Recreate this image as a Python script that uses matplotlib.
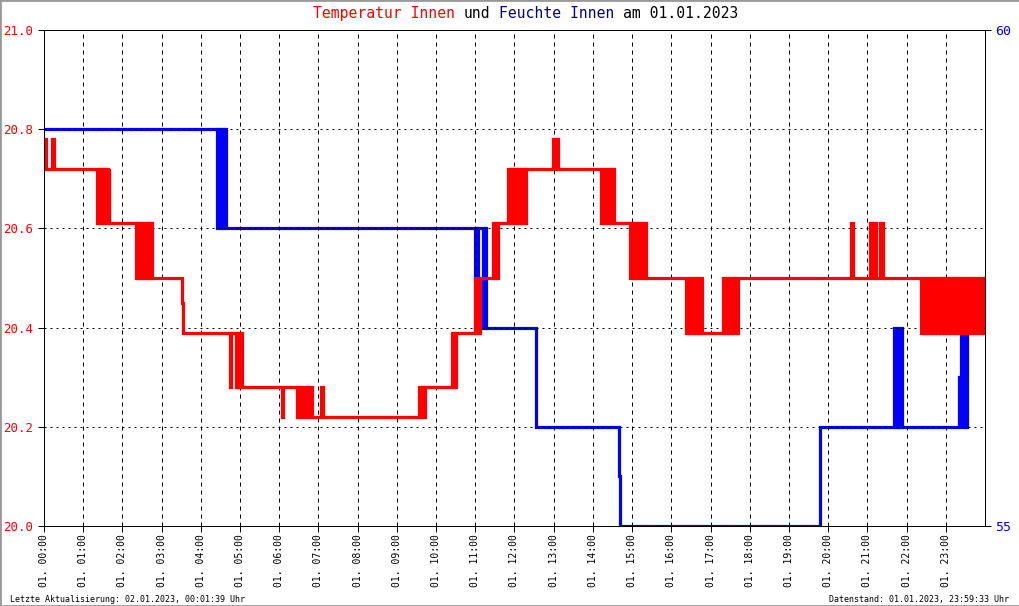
import matplotlib
matplotlib.use('Agg')
import matplotlib.pyplot as plt
from matplotlib.patches import Rectangle

plt.rcParams['font.family'] = ['DejaVu Sans Mono', 'DejaVu Sans']

# Temperatur Innen (hours since 00:00, degC), step changes
temp_time = [0.00, 0.05, 0.20, 0.25,
             1.36, 1.40, 1.43, 1.47, 1.50, 1.53, 1.56, 1.59, 1.62, 1.65, 1.67,
             2.34, 2.38, 2.41, 2.45, 2.48, 2.52, 2.55, 2.59, 2.62, 2.66, 2.69, 2.73, 2.76,
             3.51, 3.55,
             4.74, 4.78, 4.90, 4.94, 4.97, 5.01, 5.05,
             6.06, 6.10, 6.45, 6.49, 6.53, 6.57, 6.61, 6.65, 6.69, 6.73, 6.77, 6.81, 6.84,
             7.07, 7.11,
             9.57, 9.61, 9.65, 9.69, 9.73,
             10.40, 10.43, 10.46, 10.49, 10.52,
             10.99, 11.03, 11.06, 11.09, 11.12,
             11.46, 11.49, 11.52, 11.55, 11.58,
             11.83, 11.87, 11.91, 11.95, 11.99, 12.03, 12.07, 12.11, 12.15, 12.19, 12.23, 12.27, 12.30,
             12.98, 13.02, 13.05, 13.10,
             14.21, 14.25, 14.29, 14.33, 14.37, 14.41, 14.45, 14.49, 14.53,
             14.95, 14.99, 15.03, 15.07, 15.11, 15.15, 15.19, 15.23, 15.27, 15.31, 15.35,
             16.38, 16.42, 16.46, 16.50, 16.54, 16.58, 16.62, 16.66, 16.70, 16.74, 16.78,
             17.31, 17.35, 17.43, 17.47, 17.55, 17.59, 17.64, 17.68, 17.71,
             20.58, 20.64,
             21.07, 21.11, 21.14, 21.22,
             21.33, 21.40,
             22.37, 22.41, 22.45, 22.49, 22.53, 22.57, 22.61, 22.65, 22.69, 22.73,
             22.77, 22.83, 22.87, 22.91, 22.95, 22.99, 23.03, 23.09, 23.13, 23.19,
             23.23, 23.27, 23.31, 23.35, 23.39, 23.43, 23.47, 23.51, 23.55, 23.59,
             23.63, 23.67, 23.71, 23.75, 23.79, 23.83, 23.87, 23.91, 23.95, 23.99,
             24.00]
temp_value = [20.78, 20.72, 20.78, 20.72,
              20.61, 20.72, 20.61, 20.72, 20.61, 20.72, 20.61, 20.72, 20.61, 20.72, 20.61,
              20.50, 20.61, 20.50, 20.61, 20.50, 20.61, 20.50, 20.61, 20.50, 20.61, 20.50, 20.61, 20.50,
              20.45, 20.39,
              20.28, 20.39, 20.28, 20.39, 20.28, 20.39, 20.28,
              20.22, 20.28, 20.22, 20.28, 20.22, 20.28, 20.22, 20.28, 20.22, 20.28, 20.22, 20.28, 20.22,
              20.28, 20.22,
              20.28, 20.22, 20.28, 20.22, 20.28,
              20.39, 20.28, 20.39, 20.28, 20.39,
              20.50, 20.39, 20.50, 20.39, 20.50,
              20.61, 20.50, 20.61, 20.50, 20.61,
              20.72, 20.61, 20.72, 20.61, 20.72, 20.61, 20.72, 20.61, 20.72, 20.61, 20.72, 20.61, 20.72,
              20.78, 20.72, 20.78, 20.72,
              20.61, 20.72, 20.61, 20.72, 20.61, 20.72, 20.61, 20.72, 20.61,
              20.50, 20.61, 20.50, 20.61, 20.50, 20.61, 20.50, 20.61, 20.50, 20.61, 20.50,
              20.39, 20.50, 20.39, 20.50, 20.39, 20.50, 20.39, 20.50, 20.39, 20.50, 20.39,
              20.50, 20.39, 20.50, 20.39, 20.50, 20.39, 20.50, 20.39, 20.50,
              20.61, 20.50,
              20.61, 20.50, 20.61, 20.50,
              20.61, 20.50,
              20.39, 20.50, 20.39, 20.50, 20.39, 20.50, 20.39, 20.50, 20.39, 20.50,
              20.39, 20.50, 20.39, 20.50, 20.39, 20.50, 20.39, 20.50, 20.39, 20.50,
              20.39, 20.50, 20.39, 20.50, 20.39, 20.50, 20.39, 20.50, 20.39, 20.50,
              20.39, 20.50, 20.39, 20.50, 20.39, 20.50, 20.39, 20.50, 20.39, 20.50,
              20.50]

# Feuchte Innen (%)
hum_time = [0.00,
            4.40, 4.44, 4.48, 4.52, 4.56, 4.60, 4.64,
            10.99, 11.02, 11.05, 11.08, 11.20, 11.24, 11.27,
            12.55,
            14.67, 14.70,
            19.80,
            21.67, 21.71, 21.75, 21.79, 21.83, 21.88,
            23.34, 23.38, 23.42, 23.46, 23.50, 23.53,
            24.00]
hum_value = [59,
             58, 59, 58, 59, 58, 59, 58,
             57, 58, 57, 58, 57, 58, 57,
             56,
             55.5, 55,
             56,
             57, 56, 57, 56, 57, 56,
             56.5, 57, 56, 57, 56, 57,
             57]

hours = list(range(24))
hour_labels = ["01. %02d:00" % h for h in hours]
temp_ticks = [20.0, 20.2, 20.4, 20.6, 20.8, 21.0]
hum_ticks = [55, 60]

W, H = 1020, 606
fig = plt.figure(figsize=(W / 100, H / 100), dpi=100)
ax = fig.add_axes([44 / W, 80 / H, 941 / W, 496 / H])
ax2 = ax.twinx()

# red must sit over blue
ax.set_zorder(ax2.get_zorder() + 1)
ax.patch.set_visible(False)

ax2.step(hum_time, hum_value, where='post', color='#0000ff', lw=2.3, solid_joinstyle='miter')
ax.step(temp_time, temp_value, where='post', color='#ff0000', lw=2.3, solid_joinstyle='miter')

ax.set_xlim(0, 24)
ax.set_ylim(20, 21)
ax2.set_ylim(55, 60)

ax.set_xticks(hours)
ax.set_xticklabels(hour_labels, rotation=90, fontsize=7, va='top', ha='center')
ax.set_yticks(temp_ticks)
ax.set_yticklabels(["%.1f" % v for v in temp_ticks])
ax2.set_yticks(hum_ticks)
ax2.set_yticklabels([str(v) for v in hum_ticks])

ax.tick_params(axis='x', direction='out', length=4, width=0.72, pad=2)
ax.tick_params(axis='y', direction='out', length=4, width=0.72, pad=3.5,
               labelcolor='#ff0000', labelsize=9, right=False)
ax2.tick_params(axis='y', direction='out', length=4, width=0.72, pad=3.5,
                labelcolor='#0000ff', labelsize=9.5)

ax.xaxis.grid(True, color='black', lw=0.72, linestyle=(0, (4, 4)))
ax.yaxis.grid(True, color='black', lw=0.72, linestyle=(0, (2, 4)))

for a in (ax, ax2):
    for s in a.spines.values():
        s.set_linewidth(0.72)
        s.set_color('black')

# title in pieces, monospace so positions follow char count
cw = 8.85
x0 = 313
parts = [("Temperatur Innen", '#ff0000', 0),
         ("und", 'black', 17),
         ("Feuchte Innen", '#000090', 21),
         ("am 01.01.2023", 'black', 35)]
for txt, col, off in parts:
    fig.text((x0 + off * cw) / W, 1 - 18 / H, txt, color=col, fontsize=10.6,
             ha='left', va='baseline')

fig.text(10 / W, 4 / H, "Letzte Aktualisierung: 02.01.2023, 00:01:39 Uhr",
         fontsize=6, ha='left', va='baseline')
fig.text(1009 / W, 4 / H, "Datenstand: 01.01.2023, 23:59:33 Uhr",
         fontsize=6, ha='right', va='baseline')

fig.patches.append(Rectangle((0, 0), 1, 1, transform=fig.transFigure, fill=False,
                             edgecolor='#999999', lw=2))

fig.savefig('out.png', dpi=100)
